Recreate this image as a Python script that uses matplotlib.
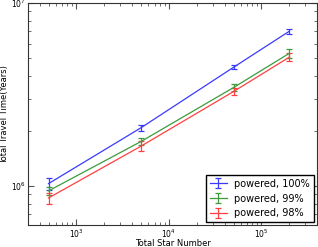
import numpy as np
import matplotlib
matplotlib.use('Agg')
import matplotlib.pyplot as plt

stars = [500, 5000, 50000, 200000]

t100 = [1.03e6, 2.08e6, 4.45e6, 7.0e6]
e100 = [0.08e6, 0.08e6, 0.12e6, 0.25e6]
t99 = [0.94e6, 1.75e6, 3.45e6, 5.3e6]
e99 = [0.05e6, 0.08e6, 0.15e6, 0.3e6]
t98 = [0.86e6, 1.65e6, 3.28e6, 5.05e6]
e98 = [0.06e6, 0.1e6, 0.15e6, 0.25e6]

labels = ['powered, 100%', 'powered, 99%', 'powered, 98%']
colors = ['#3a3aff', '#3c9c3c', '#ff4040']

fig = plt.figure(figsize=(3.18, 2.47), dpi=100)
ax = fig.add_axes([0.088, 0.088, 0.909, 0.9])

for t, e, c, lab in zip([t100, t99, t98], [e100, e99, e98], colors, labels):
    ax.errorbar(stars, t, yerr=e, color=c, lw=0.9, elinewidth=0.9, capsize=2.5, capthick=0.9, label=lab)

ax.set_xscale('log')
ax.set_yscale('log')
ax.set_xlim(300, 4e5)
ax.set_ylim(6.1e5, 1e7)

for s in ax.spines.values():
    s.set_linewidth(0.8)
    s.set_color('#333333')
ax.tick_params(which='both', direction='in', top=True, right=True, labelsize=5.5, color='#555555', pad=1.5)
ax.tick_params(which='major', length=4)
ax.tick_params(which='minor', length=2)
ax.set_xlabel('Total Star Number', fontsize=6)
ax.set_ylabel('Total Travel Time(Years)', fontsize=6)
ax.xaxis.set_label_coords(0.5, -0.062)
ax.yaxis.set_label_coords(-0.064, 0.5)

leg = ax.legend(loc='lower right', fontsize=7, fancybox=False, framealpha=1, borderaxespad=0.3, handlelength=1.7)
leg.get_frame().set_edgecolor('black')

fig.savefig('out.png', dpi=100)
